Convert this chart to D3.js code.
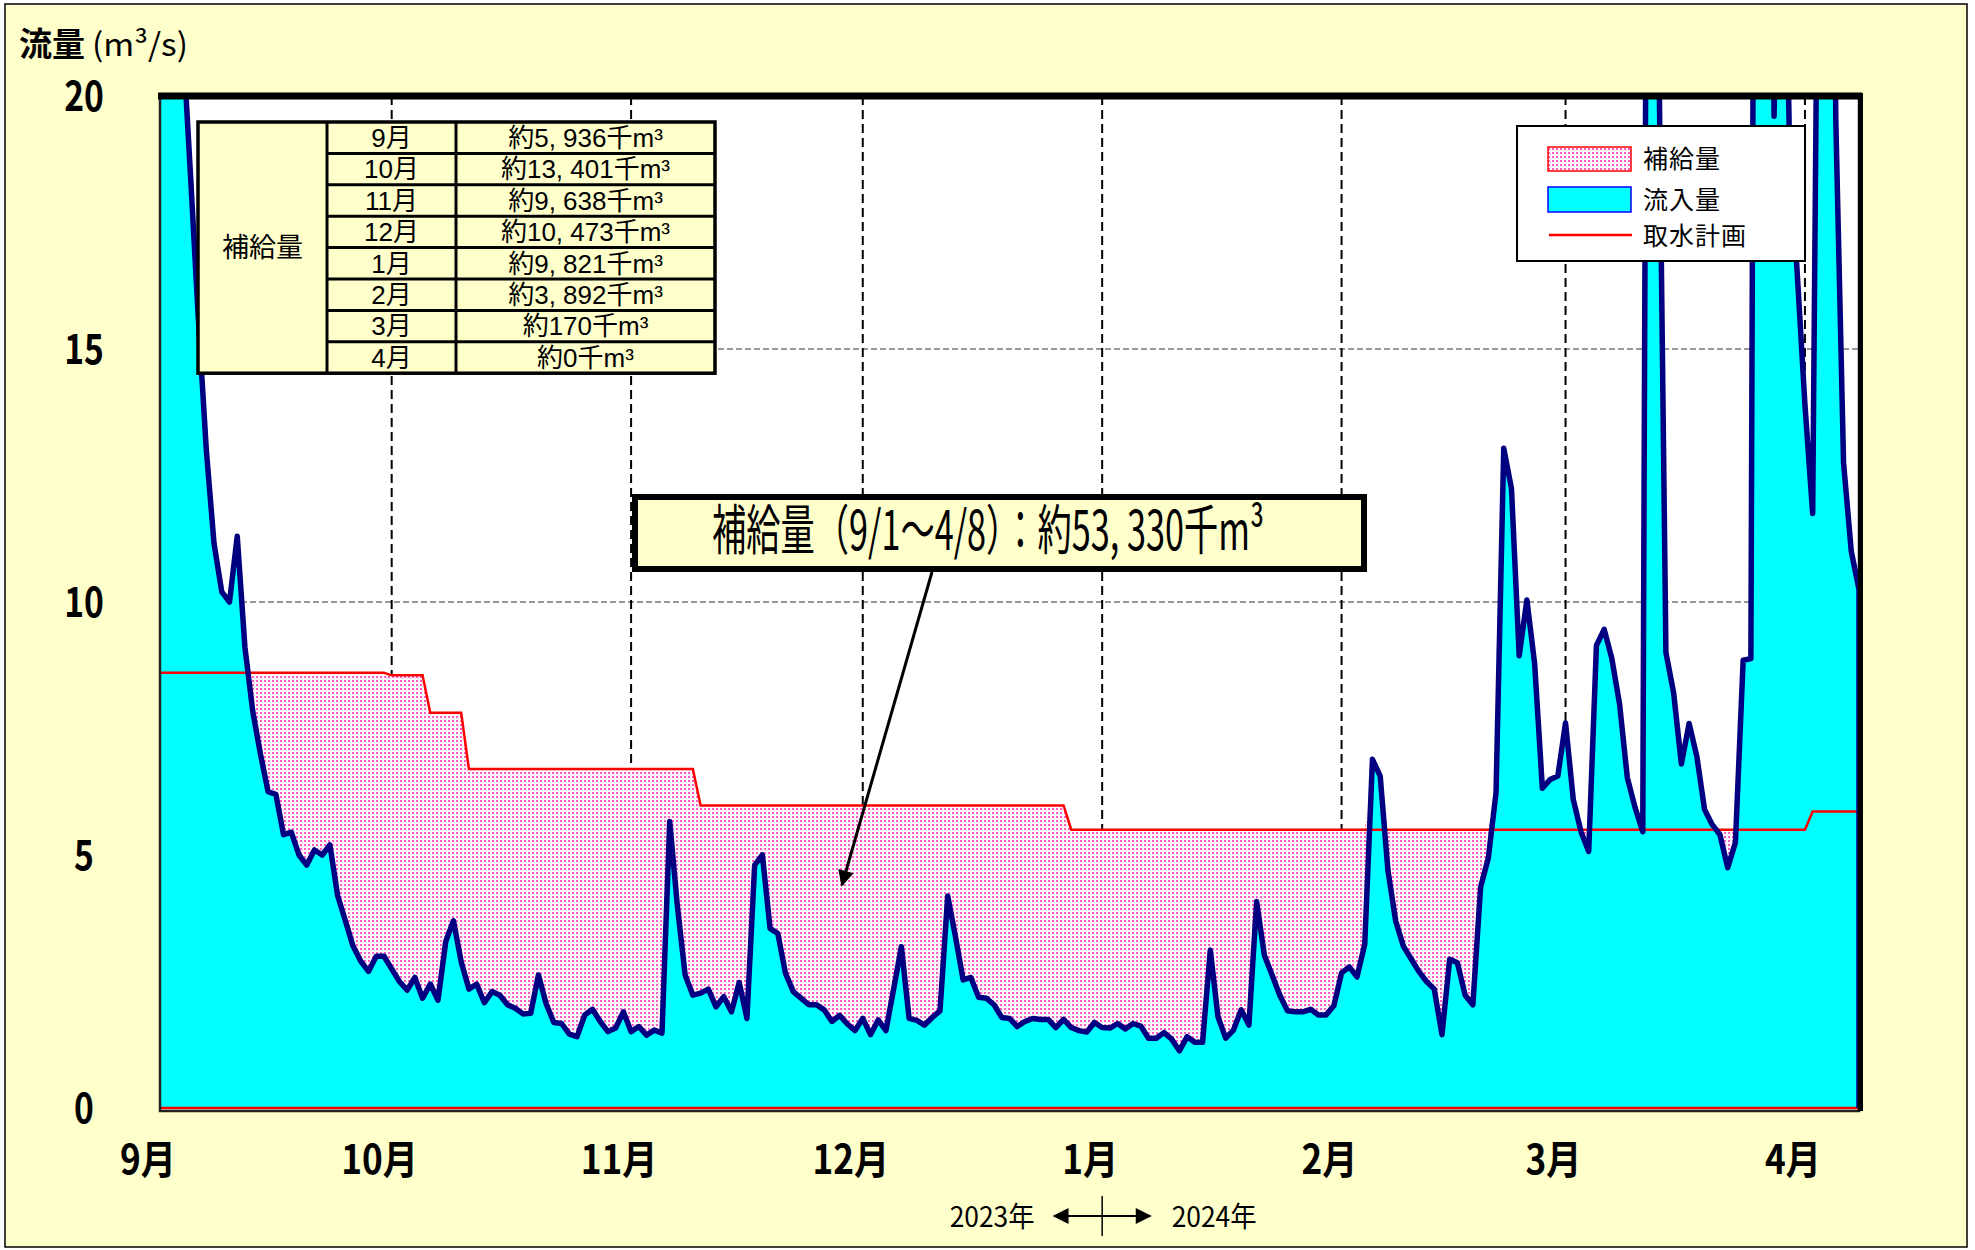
<!DOCTYPE html>
<meta charset="utf-8">
<head>
<style>
  body {margin: 0; background: #fff;}
  text {font-family: "Noto Sans CJK JP", "Noto Sans", sans-serif; fill: #000;}
  text.cell {font-family: "Liberation Sans Narrow", "Liberation Sans", "Noto Sans CJK JP", sans-serif;}
</style>
<script src="https://d3js.org/d3.v7.min.js"></script>
</head>
<body>
<script>

// daily inflow (m3/s) from 2023-09-01 to 2024-04-08
var inflow = [
  26, 24, 22.5, 21, 18.3, 15.5, 13.0, 11.15, 10.2, 10.0,
  11.3, 9.1, 7.85, 7.0, 6.25, 6.2, 5.4, 5.45, 5.0, 4.8,
  5.1, 5.0, 5.2, 4.2, 3.7, 3.2, 2.9, 2.7, 3.0, 3.0,
  2.75, 2.5, 2.33, 2.58, 2.17, 2.45, 2.13, 3.29, 3.70, 2.89,
  2.35, 2.45, 2.08, 2.30, 2.23, 2.04, 1.97, 1.86, 1.87, 2.63,
  2.06, 1.69, 1.67, 1.46, 1.41, 1.84, 1.95, 1.71, 1.51, 1.58,
  1.90, 1.51, 1.61, 1.44, 1.54, 1.48, 5.66, 3.98, 2.63, 2.23,
  2.27, 2.35, 2.00, 2.20, 1.90, 2.48, 1.77, 4.80, 5.00, 3.55,
  3.45, 2.66, 2.30, 2.17, 2.04, 2.04, 1.94, 1.71, 1.83, 1.66,
  1.53, 1.77, 1.45, 1.74, 1.53, 2.35, 3.19, 1.77, 1.73, 1.64,
  1.79, 1.92, 4.19, 3.39, 2.53, 2.58, 2.19, 2.17, 2.04, 1.79,
  1.77, 1.61, 1.71, 1.77, 1.75, 1.75, 1.59, 1.75, 1.59, 1.53,
  1.50, 1.69, 1.59, 1.58, 1.67, 1.56, 1.67, 1.62, 1.38, 1.38,
  1.49, 1.36, 1.13, 1.41, 1.30, 1.30, 3.12, 1.80, 1.38, 1.54,
  1.94, 1.64, 4.08, 3.02, 2.63, 2.23, 1.92, 1.90, 1.90, 1.95,
  1.84, 1.84, 2.02, 2.67, 2.79, 2.59, 3.24, 6.89, 6.56, 4.7,
  3.7, 3.2, 2.95, 2.7, 2.5, 2.35, 1.45, 2.94, 2.87, 2.23,
  2.04, 4.36, 4.94, 6.23, 13.04, 12.24, 8.94, 10.04, 8.78, 6.32,
  6.49, 6.56, 7.61, 6.10, 5.46, 5.07, 9.14, 9.46, 8.88, 7.98,
  6.53, 5.94, 5.46, 45, 22, 9.0, 8.2, 6.8, 7.6, 6.95,
  5.9, 5.6, 5.4, 4.75, 5.25, 8.85, 8.88, 50, 40, 19.6,
  28, 19.0, 16.5, 13.9, 11.75, 30, 35, 19.5, 12.75, 11.0,
  10.25
];

// intake plan: date it starts, value (m3/s)
var planSteps = [
  ["2023-09-01", 8.6],
  ["2023-10-01", 8.55],
  ["2023-10-06", 7.81],
  ["2023-10-11", 6.7],
  ["2023-11-10", 5.98],
  ["2023-12-28", 5.5],
  ["2024-04-02", 5.86]
];

var monthLabels = ["9月", "10月", "11月", "12月", "1月", "2月", "3月", "4月"];
var yTicks = [0, 5, 10, 15, 20];
var tableMonths = ["9月", "10月", "11月", "12月", "1月", "2月", "3月", "4月"];
var tableSupply = [5936, 13401, 9638, 10473, 9821, 3892, 170, 0];
var totalText = "補給量（9/1～4/8）：約53, 330千m³";
var legendLabels = ["補給量", "流入量", "取水計画"];
var yearLabels = ["2023年", "2024年"];

var width = 1975, height = 1250;
var plot = {left: 160, right: 1859, top: 96, bottom: 1108};

var parse = d3.timeParse("%Y-%m-%d");
var start = parse("2023-09-01");
var days = inflow.map(function(v, i) {return d3.timeDay.offset(start, i)});

var steps = planSteps.map(function(s) {return {date: parse(s[0]), value: s[1]}});
var bisect = d3.bisector(function(s) {return s.date}).right;
var rows = days.map(function(d, i) {
    return {date: d, inflow: inflow[i], plan: steps[bisect(steps, d) - 1].value};
});

var x = d3.scaleTime()
    .domain([start, days[days.length - 1]])
    .range([plot.left, plot.right]);

var y = d3.scaleLinear()
    .domain([0, 20])
    .range([plot.bottom, plot.top]);

var svg = d3.select("body").append("svg")
    .attr("width", width)
    .attr("height", height);

var defs = svg.append("defs");

defs.append("clipPath").attr("id", "plotClip")
  .append("rect")
    .attr("x", plot.left).attr("y", plot.top)
    .attr("width", plot.right - plot.left)
    .attr("height", plot.bottom - plot.top + 3);

var dots = defs.append("pattern")
    .attr("id", "dots")
    .attr("width", 4).attr("height", 4)
    .attr("patternUnits", "userSpaceOnUse");
dots.append("rect").attr("width", 4).attr("height", 4).attr("fill", "#fff");
dots.append("rect").attr("width", 2).attr("height", 2).attr("fill", "#ff5cc8");
dots.append("rect").attr("x", 2).attr("y", 2).attr("width", 1).attr("height", 1).attr("fill", "#ffb8e6");

defs.append("marker")
    .attr("id", "arrow")
    .attr("viewBox", "0 0 10 10")
    .attr("refX", 9).attr("refY", 5)
    .attr("markerUnits", "userSpaceOnUse")
    .attr("markerWidth", 20).attr("markerHeight", 16)
    .attr("orient", "auto-start-reverse")
  .append("path")
    .attr("d", "M0,0 L10,5 L0,10 z")
    .attr("fill", "#000");

// background
svg.append("rect")
    .attr("x", 5).attr("y", 4)
    .attr("width", 1962).attr("height", 1243)
    .attr("fill", "#ffffcc")
    .attr("stroke", "#000")
    .attr("stroke-width", 1.5);

svg.append("rect")
    .attr("x", plot.left).attr("y", plot.top)
    .attr("width", plot.right - plot.left)
    .attr("height", plot.bottom - plot.top)
    .attr("fill", "#fff");

// grid
var months = d3.timeMonth.range(start, d3.timeDay.offset(days[days.length - 1], 1));

svg.append("g").selectAll("line")
    .data(yTicks.filter(function(v) {return v > 0 && v < 20}))
  .enter().append("line")
    .attr("x1", plot.left).attr("x2", plot.right)
    .attr("y1", function(d) {return y(d)})
    .attr("y2", function(d) {return y(d)})
    .attr("stroke", "#333")
    .attr("stroke-width", 1)
    .attr("stroke-dasharray", "6,3");

svg.append("g").selectAll("line")
    .data(months.slice(1))
  .enter().append("line")
    .attr("x1", function(d) {return x(d)})
    .attr("x2", function(d) {return x(d)})
    .attr("y1", plot.top).attr("y2", plot.bottom)
    .attr("stroke", "#000")
    .attr("stroke-width", 2)
    .attr("stroke-dasharray", "9,5");

// series
var g = svg.append("g").attr("clip-path", "url(#plotClip)");

g.append("path")
    .datum(rows)
    .attr("fill", "url(#dots)")
    .attr("d", d3.area()
        .x(function(d) {return x(d.date)})
        .y0(function(d) {return y(d.inflow)})
        .y1(function(d) {return y(Math.max(d.plan, d.inflow))}));

g.append("path")
    .datum(rows)
    .attr("fill", "#00ffff")
    .attr("stroke", "#0000ff")
    .attr("stroke-width", 1.5)
    .attr("d", d3.area()
        .x(function(d) {return x(d.date)})
        .y0(y(0))
        .y1(function(d) {return y(d.inflow)}));

var last = rows[rows.length - 1];

var planPts = rows.map(function(d) {return [x(d.date), y(d.plan)]})
    .concat([[x(last.date), y(0)], [x(start), y(0)]]);
g.append("path")
    .attr("fill", "none")
    .attr("stroke", "#ff0000")
    .attr("stroke-width", 2.5)
    .attr("d", d3.line()(planPts));

var inflowPts = rows.map(function(d) {return [x(d.date), y(d.inflow)]})
    .concat([[x(last.date), y(0)]]);
g.append("path")
    .attr("fill", "none")
    .attr("stroke", "#000080")
    .attr("stroke-width", 5.5)
    .attr("stroke-linejoin", "round")
    .attr("d", d3.line()(inflowPts));

// plot frame
svg.append("rect")
    .attr("x", plot.left).attr("y", plot.top)
    .attr("width", plot.right - plot.left)
    .attr("height", plot.bottom - plot.top + 3)
    .attr("fill", "none")
    .attr("stroke", "#222")
    .attr("stroke-width", 2.5);
svg.append("line")
    .attr("x1", plot.left - 2).attr("x2", plot.right + 3)
    .attr("y1", plot.top).attr("y2", plot.top)
    .attr("stroke", "#000").attr("stroke-width", 7);
svg.append("line")
    .attr("x1", plot.right + 1.5).attr("x2", plot.right + 1.5)
    .attr("y1", plot.top - 3).attr("y2", plot.bottom + 3)
    .attr("stroke", "#000").attr("stroke-width", 5);

// y labels
svg.append("g").selectAll("text")
    .data(yTicks)
  .enter().append("text")
    .attr("transform", function(d) {return "translate(84," + y(d) + ") scale(0.8,1)"})
    .attr("text-anchor", "middle")
    .attr("dy", "0.36em")
    .style("font-size", "42px")
    .style("font-weight", "bold")
    .text(function(d) {return d});

// title
svg.append("text")
    .attr("x", 19).attr("y", 56)
    .style("font-size", "33px")
    .style("font-weight", "bold")
    .text("流量");
svg.append("text")
    .attr("x", 92).attr("y", 56)
    .attr("textLength", 96)
    .attr("lengthAdjust", "spacingAndGlyphs")
    .style("font-size", "32px")
    .text("(m³/s)");

// month labels
svg.append("g").selectAll("text")
    .data(months)
  .enter().append("text")
    .attr("transform", function(d) {return "translate(" + (x(d) - 12) + ",1160) scale(0.88,1)"})
    .attr("text-anchor", "middle")
    .attr("dy", "0.36em")
    .style("font-size", "40px")
    .style("font-weight", "bold")
    .text(function(d, i) {return monthLabels[i]});

// year marker
var jan = months[4];
svg.append("line")
    .attr("x1", x(jan)).attr("x2", x(jan))
    .attr("y1", 1196).attr("y2", 1236)
    .attr("stroke", "#000").attr("stroke-width", 1.5);
svg.append("line")
    .attr("x1", x(jan) - 48).attr("x2", x(jan) + 48)
    .attr("y1", 1216).attr("y2", 1216)
    .attr("stroke", "#000").attr("stroke-width", 2)
    .attr("marker-start", "url(#arrow)")
    .attr("marker-end", "url(#arrow)");
svg.append("g").selectAll("text")
    .data(yearLabels)
  .enter().append("text")
    .attr("x", function(d, i) {return i ? x(jan) + 112 : x(jan) - 110})
    .attr("y", 1217)
    .attr("dy", "0.36em")
    .attr("text-anchor", "middle")
    .attr("textLength", 85)
    .attr("lengthAdjust", "spacingAndGlyphs")
    .style("font-size", "28px")
    .text(function(d) {return d});

// supply table
var table = {left: 198, top: 122, rowH: 31.4, cols: [198, 327, 456, 715]};
var tg = svg.append("g");
tg.append("rect")
    .attr("x", table.left).attr("y", table.top)
    .attr("width", table.cols[3] - table.left)
    .attr("height", table.rowH * tableMonths.length)
    .attr("fill", "#ffffcc");
tg.selectAll("line.row")
    .data(d3.range(1, tableMonths.length))
  .enter().append("line")
    .attr("x1", table.cols[1]).attr("x2", table.cols[3])
    .attr("y1", function(d) {return table.top + d * table.rowH})
    .attr("y2", function(d) {return table.top + d * table.rowH})
    .attr("stroke", "#000").attr("stroke-width", 3);
tg.selectAll("line.col")
    .data([table.cols[1], table.cols[2]])
  .enter().append("line")
    .attr("x1", function(d) {return d}).attr("x2", function(d) {return d})
    .attr("y1", table.top).attr("y2", table.top + table.rowH * tableMonths.length)
    .attr("stroke", "#000").attr("stroke-width", 3);
tg.append("rect")
    .attr("x", table.left).attr("y", table.top)
    .attr("width", table.cols[3] - table.left)
    .attr("height", table.rowH * tableMonths.length)
    .attr("fill", "none")
    .attr("stroke", "#000").attr("stroke-width", 3.5);
tg.append("text")
    .attr("x", (table.cols[0] + table.cols[1]) / 2)
    .attr("y", table.top + table.rowH * tableMonths.length / 2)
    .attr("dy", "0.36em")
    .attr("text-anchor", "middle")
    .style("font-size", "27px")
    .text("補給量");
tg.selectAll("text.m")
    .data(tableMonths)
  .enter().append("text")
    .attr("class", "cell")
    .attr("x", (table.cols[1] + table.cols[2]) / 2)
    .attr("y", function(d, i) {return table.top + (i + 0.5) * table.rowH})
    .attr("dy", "0.36em")
    .attr("text-anchor", "middle")
    .style("font-size", "26px")
    .text(function(d) {return d});
var fmt = d3.format(",");
tg.selectAll("text.v")
    .data(tableSupply)
  .enter().append("text")
    .attr("class", "cell")
    .attr("x", (table.cols[2] + table.cols[3]) / 2)
    .attr("y", function(d, i) {return table.top + (i + 0.5) * table.rowH})
    .attr("dy", "0.36em")
    .attr("text-anchor", "middle")
    .style("font-size", "26px")
    .text(function(d) {return "約" + fmt(d).replace(",", ", ") + "千m³"});

// total box
svg.append("rect")
    .attr("x", 635).attr("y", 497)
    .attr("width", 729).attr("height", 72)
    .attr("fill", "#ffffcc")
    .attr("stroke", "#000").attr("stroke-width", 6);
svg.append("text")
    .attr("x", 712).attr("y", 550)
    .attr("textLength", 552)
    .attr("lengthAdjust", "spacingAndGlyphs")
    .style("font-size", "54px")
    .text(totalText);

svg.append("line")
    .attr("x1", 932).attr("y1", 572)
    .attr("x2", 842).attr("y2", 885)
    .attr("stroke", "#000").attr("stroke-width", 3)
    .attr("marker-end", "url(#arrow)");

// legend
var lg = svg.append("g");
lg.append("rect")
    .attr("x", 1517).attr("y", 126)
    .attr("width", 288).attr("height", 135)
    .attr("fill", "#fff")
    .attr("stroke", "#000").attr("stroke-width", 2);
lg.append("rect")
    .attr("x", 1548).attr("y", 147).attr("width", 83).attr("height", 24)
    .attr("fill", "url(#dots)").attr("stroke", "#ff0000").attr("stroke-width", 1.5);
lg.append("rect")
    .attr("x", 1548).attr("y", 187).attr("width", 83).attr("height", 25)
    .attr("fill", "#00ffff").attr("stroke", "#0000ff").attr("stroke-width", 1.5);
lg.append("line")
    .attr("x1", 1549).attr("x2", 1632).attr("y1", 235).attr("y2", 235)
    .attr("stroke", "#ff0000").attr("stroke-width", 2.5);
lg.selectAll("text")
    .data(legendLabels)
  .enter().append("text")
    .attr("x", 1643)
    .attr("y", function(d, i) {return [159, 200, 236][i]})
    .attr("dy", "0.36em")
    .style("font-size", "25px")
    .style("letter-spacing", "1px")
    .text(function(d) {return d});

</script>
</body>
